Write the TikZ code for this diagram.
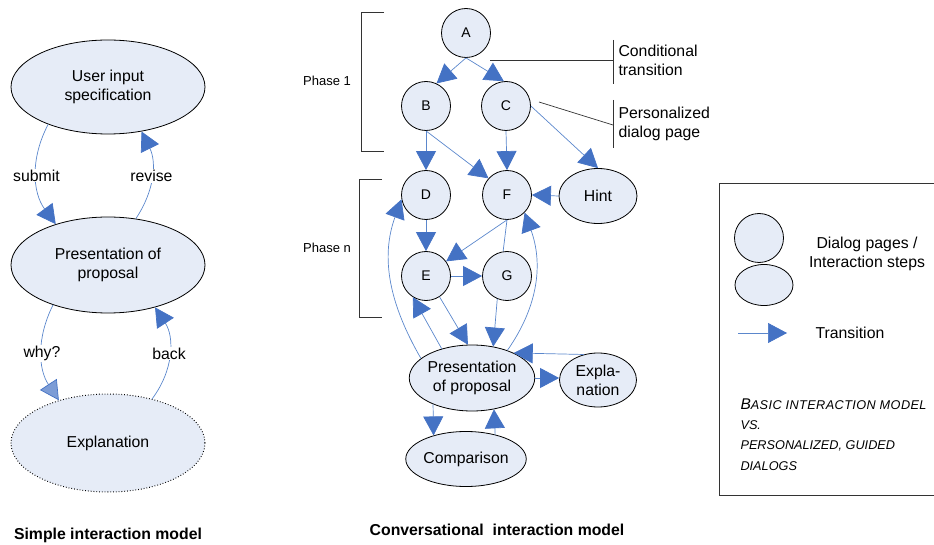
\documentclass[tikz,border=0pt]{standalone}
\usepackage{fontspec}
\setmainfont{Liberation Sans}
\usetikzlibrary{positioning, shapes.geometric, arrows.meta}

\definecolor{pagefill}{HTML}{E6ECF7}
\definecolor{tipblue}{HTML}{4472C4}
\definecolor{lineblue}{HTML}{5B87CC}
\newcommand{\smallcap}{\fontsize{12.7}{20.3}\selectfont}

\begin{document}
\begin{tikzpicture}[x=1pt, y=-1pt,
    every node/.style={font=\fontsize{15.8}{19}\selectfont},
    page/.style={circle, draw=black, fill=pagefill, line width=0.8pt, minimum size=49pt, inner sep=0pt, font=\fontsize{14}{17}\selectfont},
    step_ell/.style={ellipse, draw=black, fill=pagefill, line width=0.8pt, inner sep=0pt, align=center},
    trans/.style={draw=lineblue, line width=0.7pt, -{Triangle[length=19pt, width=20pt, color=tipblue]}},
    why_trans/.style={draw=lineblue, line width=0.7pt, -{Triangle[length=19pt, width=20pt, color=tipblue, fill=tipblue!70]}},
    plain/.style={draw=lineblue, line width=0.7pt},
    bracket/.style={draw=black!80, line width=0.7pt},
    edge_label/.style={fill=white, inner sep=1pt}
  ]
  \useasboundingbox (0, 0) rectangle (934, 545);

  % simple model
  \node[step_ell, minimum width=194pt, minimum height=94pt] (user_input) at (108, 87) {User input\\specification};
  \node[step_ell, minimum width=194pt, minimum height=96pt] (presentation) at (108, 265) {Presentation of\\proposal};
  \node[step_ell, minimum width=194pt, minimum height=98pt, dotted, line width=1pt] (explanation) at (108, 443) {Explanation};
  \node[font=\bfseries\fontsize{15.8}{19}\selectfont] (simple_caption) at (108, 535) {Simple interaction model};

  \draw[trans] (user_input.212) to[bend right=32] node[edge_label] {submit} (presentation.142);
  \draw[trans] (presentation.59) to[bend right=30] node[edge_label] {revise} (user_input.307);
  \draw[why_trans] (presentation.216) to[bend right=30] node[edge_label] {why?} (explanation.139);
  \draw[trans] (explanation.45) to[bend right=35] node[edge_label] {back} (presentation.318);

  % conversational model
  \node[page] (A) at (466, 33) {A};
  \node[page] (B) at (426, 106) {B};
  \node[page] (C) at (506, 106) {C};
  \node[page] (D) at (426, 195) {D};
  \node[page] (F) at (507, 195) {F};
  \node[step_ell, minimum width=78pt, minimum height=55pt] (hint) at (598, 196) {Hint};
  \node[page] (E) at (426, 276) {E};
  \node[page] (G) at (507, 276) {G};
  \node[step_ell, minimum width=124pt, minimum height=66pt] (conv_presentation) at (472, 378) {Presentation\\of proposal};
  \node[step_ell, minimum width=77pt, minimum height=54pt] (conv_explanation) at (598, 380) {Expla-\\nation};
  \node[step_ell, minimum width=120pt, minimum height=55pt] (comparison) at (466, 459) {Comparison};
  \node[font=\bfseries\fontsize{15.8}{19}\selectfont] (conv_caption) at (497, 530) {Conversational\ \ interaction model};

  \node[font=\fontsize{13}{15}\selectfont] (phase_1) at (327, 81) {Phase 1};
  \node[font=\fontsize{13}{15}\selectfont] (phase_n) at (327, 248) {Phase n};
  \draw[bracket] (384, 12) -- (361, 12) -- (361, 151) -- (384, 151);
  \draw[bracket] (382, 179) -- (359, 179) -- (359, 317) -- (382, 317);

  \coordinate (cond_from) at (490, 60);
  \coordinate (cond_to) at (613, 60);
  \coordinate (pers_from) at (539, 102);
  \coordinate (pers_to) at (613, 125);
  \draw[bracket] (cond_from) -- (cond_to);
  \draw[bracket] (613, 40) -- (613, 84);
  \draw[bracket] (pers_from) -- (pers_to);
  \draw[bracket] (613, 100) -- (613, 148);
  \node[anchor=west, align=left] (cond_text) at (615, 60) {Conditional\\transition};
  \node[anchor=west, align=left] (pers_text) at (615, 124) {Personalized\\dialog page};

  \draw[trans] (A.south) -- (B.65);
  \draw[trans] (A.south) -- (C.95);
  \draw[trans] (B.south) -- (D.north);
  \draw[trans] (B.south) -- (F.138);
  \draw[trans] (C.south) -- (F.north);
  \draw[trans] (C.east) -- (hint.north);
  \draw[trans] (hint.west) -- (F.east);
  \draw[trans] (D.south) -- (E.north);
  \draw[trans] (F.south) -- (E.36);
  \draw[plain] (F.south) -- (G.99);
  \draw[trans] (E.east) -- (G.west);
  \draw[trans] (E.303) -- (conv_presentation.97);
  \draw[trans] (G.247) -- (conv_presentation.56);
  \draw[trans] (conv_presentation.136) -- (E.238);
  \draw[trans] (conv_presentation.159) to[out=120, in=250] (D.190);
  \draw[trans] (conv_presentation.38) to[out=55, in=-70] (F.-45);
  \draw[trans] (conv_explanation.119) -- (conv_presentation.31);
  \draw[trans] (conv_presentation.east) -- (conv_presentation.east -| conv_explanation.west);
  \draw[trans] (conv_presentation.214) -- (comparison.144);
  \draw[trans] (comparison.40) -- (conv_presentation.305);

  % legend
  \draw[bracket] (940, 183) -- (719, 183) -- (719, 495) -- (940, 495);
  \node[page] (legend_page) at (759, 238) {};
  \node[step_ell, minimum width=58pt, minimum height=41pt] (legend_step) at (764, 285) {};
  \node[align=center] (legend_steps_text) at (867, 254) {Dialog pages /\\Interaction steps};
  \coordinate (legend_from) at (738, 333);
  \coordinate (legend_to) at (787, 333);
  \draw[trans] (legend_from) -- (legend_to);
  \node[anchor=west] (legend_trans_text) at (812, 333) {Transition};
  \node[anchor=north west, align=left, font=\itshape\fontsize{15.5}{20.3}\selectfont] (legend_title) at (737, 395)
    {B{\smallcap\addfontfeature{LetterSpace=3.2}ASIC INTERACTION MODEL}\\{\smallcap VS.}\\{\smallcap PERSONALIZED, GUIDED}\\{\smallcap DIALOGS}};
\end{tikzpicture}
\end{document}
